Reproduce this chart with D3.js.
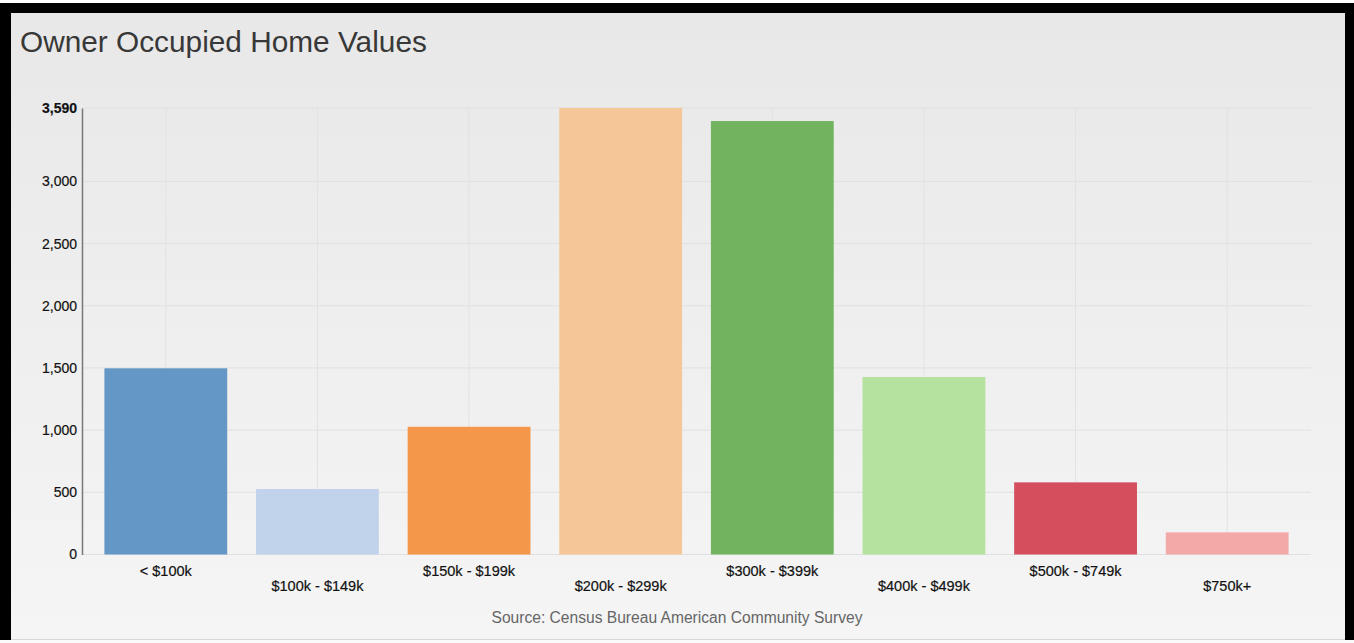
<!DOCTYPE html>
<html>
<head>
<meta charset="utf-8">
<script src="https://cdn.jsdelivr.net/npm/d3@7"></script>
<style>
html,body{margin:0;padding:0;background:#fff;}
svg{display:block;font-family:"Liberation Sans",Arial,sans-serif;}
</style>
</head>
<body>
<svg id="chart" width="1354" height="643"></svg>
<script>
const categories = ["< $100k","$100k - $149k","$150k - $199k","$200k - $299k","$300k - $399k","$400k - $499k","$500k - $749k","$750k+"];
const values = [1497, 526, 1027, 3590, 3485, 1427, 580, 178];
const colors = ["#6497c5","#c1d3eb","#f4974b","#f5c698","#71b35f","#b5e29e","#d44e5e","#f4a9a9"];
const yTicks = [0, 500, 1000, 1500, 2000, 2500, 3000, 3590];
const title = "Owner Occupied Home Values";
const source = "Source: Census Bureau American Community Survey";

const svg = d3.select("#chart");
const defs = svg.append("defs");
const grad = defs.append("linearGradient").attr("id","bg").attr("x1",0).attr("y1",0).attr("x2",0).attr("y2",1);
grad.append("stop").attr("offset","0%").attr("stop-color","#e8e8e8");
grad.append("stop").attr("offset","100%").attr("stop-color","#f5f5f5");

// frame
svg.append("rect").attr("x",0).attr("y",3).attr("width",1354).attr("height",640).attr("fill","#000");
svg.append("rect").attr("x",11).attr("y",13).attr("width",1334).attr("height",627).attr("fill","url(#bg)");
svg.append("rect").attr("x",11).attr("y",639).attr("width",1334).attr("height",1).attr("fill","#d8d8d8");
svg.append("rect").attr("x",0).attr("y",640).attr("width",1354).attr("height",3).attr("fill","#fafafa");

svg.append("text").attr("x",20).attr("y",52).attr("font-size",29.8).attr("fill","#383838").text(title);

const axisX = 82, plotRight = 1311;
const x = d3.scaleBand().domain(categories).range([90, 1303]).paddingInner(0.19).paddingOuter(0.095);
const y = d3.scaleLinear().domain([0, 3590]).range([554.5, 108]);

const g = svg.append("g");
// horizontal grid
g.selectAll(".hg").data(yTicks).join("line")
  .attr("x1",axisX).attr("x2",plotRight)
  .attr("y1",d=>y(d)).attr("y2",d=>y(d))
  .attr("stroke","#e0e0e0").attr("stroke-width",1);
// vertical grid at band centers
g.selectAll(".vg").data(categories).join("line")
  .attr("x1",d=>x(d)+x.bandwidth()/2).attr("x2",d=>x(d)+x.bandwidth()/2)
  .attr("y1",y(3590)).attr("y2",y(0))
  .attr("stroke","#e2e2e2").attr("stroke-width",1);

// bars
g.selectAll(".bar").data(categories).join("rect")
  .attr("x",d=>x(d)).attr("width",x.bandwidth())
  .attr("y",(d,i)=>y(values[i])).attr("height",(d,i)=>y(0)-y(values[i]))
  .attr("fill",(d,i)=>colors[i]);

// y axis
const yAxis = d3.axisLeft(y).tickValues(yTicks).tickFormat(d3.format(",")).tickSize(0).tickPadding(5);
const ya = svg.append("g").attr("transform",`translate(${axisX},0)`).call(yAxis);
ya.select(".domain").attr("stroke","#777").attr("stroke-width",1.5);
ya.selectAll("text").attr("font-size",14).attr("fill","#111").attr("font-family","Liberation Sans, Arial, sans-serif")
  .attr("stroke","#111").attr("stroke-width",0.2)
  .attr("font-weight",d=>d===3590?"bold":"normal");

// x axis labels
const xAxis = d3.axisBottom(x).tickSize(0).tickPadding(0);
const xa = svg.append("g").attr("transform",`translate(0,${y(0)})`).call(xAxis);
xa.select(".domain").remove();
xa.selectAll("text").attr("font-size",14.5).attr("fill","#111").attr("font-family","Liberation Sans, Arial, sans-serif")
  .attr("stroke","#111").attr("stroke-width",0.2)
  .attr("dy",null)
  .attr("y",(d,i)=> i%2===0 ? 21 : 36);

svg.append("text").attr("x",677).attr("y",622.5).attr("text-anchor","middle")
  .attr("font-size",15.6).attr("fill","#666").text(source);
</script>
</body>
</html>
